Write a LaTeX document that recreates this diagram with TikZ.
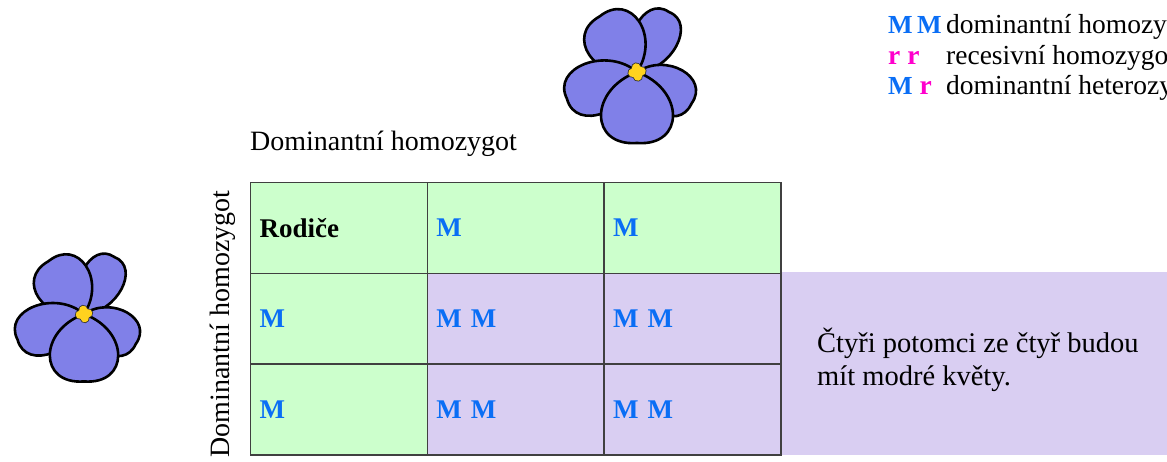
\documentclass[tikz,border=0pt]{standalone}
\usepackage{fontspec}
\setmainfont{Liberation Serif}
\usepackage{xcolor}
\usepackage{tikz}

\definecolor{cellgreen}{HTML}{CCFFCC}
\definecolor{cellviolet}{HTML}{D9CEF2}
\definecolor{alleleM}{HTML}{0A6EF5}
\definecolor{alleler}{HTML}{FF00CC}
\definecolor{petalblue}{RGB}{128,128,232}
\definecolor{pollen}{HTML}{FFD21F}

\newcommand{\alM}{\textcolor{alleleM}{\textbf{M}}}
\newcommand{\alr}{\textcolor{alleler}{\textbf{r}}}
\newcommand{\keybox}[1]{\makebox[58pt][l]{#1}}
% one petal: rotation, length, bulge
\newcommand{\petal}[3]{%
  \draw[petal, rotate=#1] (0,0) .. controls (-#3,0.25*#2) and (-#3,1.05*#2) .. (0,#2)
    .. controls (#3,1.05*#2) and (#3,0.25*#2) .. (0,0);}
% yellow middle: four lobes
\newcommand{\lobes}{(4.5,0) circle (4.3) (-4.5,0) circle (4.3) (0,4.5) circle (4.3) (0,-4.5) circle (4.3) (0,0) circle (4)}

\tikzset{
  petal/.style={draw=black, line width=2.6pt, fill=petalblue, line join=round},
  violet/.pic={
    % back petals first, the lower one on top
    \petal{-28}{68}{30}
    \petal{-120}{63}{32}
    \petal{34}{67}{40}
    \petal{111}{75}{35}
    \petal{180}{71}{48}
    \begin{scope}[rotate=10]
      \fill[black!80] [line width=1.6pt] \lobes;
      \draw[black!80, line width=1.6pt] \lobes;
      \fill[pollen] \lobes;
    \end{scope}
  },
  cell/.style={draw=black!75, line width=1.4pt, anchor=north west,
    text width=158.7pt, inner xsep=9pt, minimum height=90.7pt, align=left,
    font=\fontsize{27}{33}\selectfont},
  green/.style={cell, fill=cellgreen},
  lilac/.style={cell, fill=cellviolet},
}

\begin{document}
\begin{tikzpicture}[x=1pt, y=1pt]
  \useasboundingbox (0,0) rectangle (1167,-461);

  % flowers
  \pic at (637,-72) {violet};
  \pic[scale=0.95] at (84,-314) {violet};

  % legend
  \begin{scope}[every node/.style={anchor=base west, inner sep=0, font=\fontsize{27.5}{31}\selectfont}]
    \node (keyMM) at (888,-33) {\keybox{{\fontsize{26}{31}\selectfont\alM\,\alM}}dominantní homozygot};
    \node (keyrr) at (888,-64) {\keybox{\alr\ \alr}recesivní homozygot};
    \node (keyMr) at (888,-94) {\keybox{{\fontsize{26}{31}\selectfont\alM}\ \alr}dominantní heterozygot};
  \end{scope}

  % parent labels
  \node[anchor=base west, inner sep=0, font=\fontsize{28}{33}\selectfont] (toplabel) at (250,-150) {Dominantní homozygot};
  \node[anchor=base, rotate=90, inner sep=0, font=\fontsize{28}{33}\selectfont] (sidelabel) at (229,-324) {Dominantní homozygot};

  % offspring strip behind the table
  \fill[cellviolet] (780,-272) rectangle (1167,-455);
  \node[anchor=west, align=left, inner sep=0, font=\fontsize{28.5}{33}\selectfont] (note) at (817,-360)
    {Čtyři potomci ze čtyř budou\\mít modré květy.};

  % Punnett square
  \node[green] (c11) at (250,-182) {\textbf{Rodiče}};
  \node[green] (c12) at (426.7,-182) {\alM};
  \node[green] (c13) at (603.4,-182) {\alM};
  \node[green] (c21) at (250,-272.7) {\alM};
  \node[lilac] (c22) at (426.7,-272.7) {\alM\ \alM};
  \node[lilac] (c23) at (603.4,-272.7) {\alM\ \alM};
  \node[green] (c31) at (250,-363.4) {\alM};
  \node[lilac] (c32) at (426.7,-363.4) {\alM\ \alM};
  \node[lilac] (c33) at (603.4,-363.4) {\alM\ \alM};
\end{tikzpicture}
\end{document}
